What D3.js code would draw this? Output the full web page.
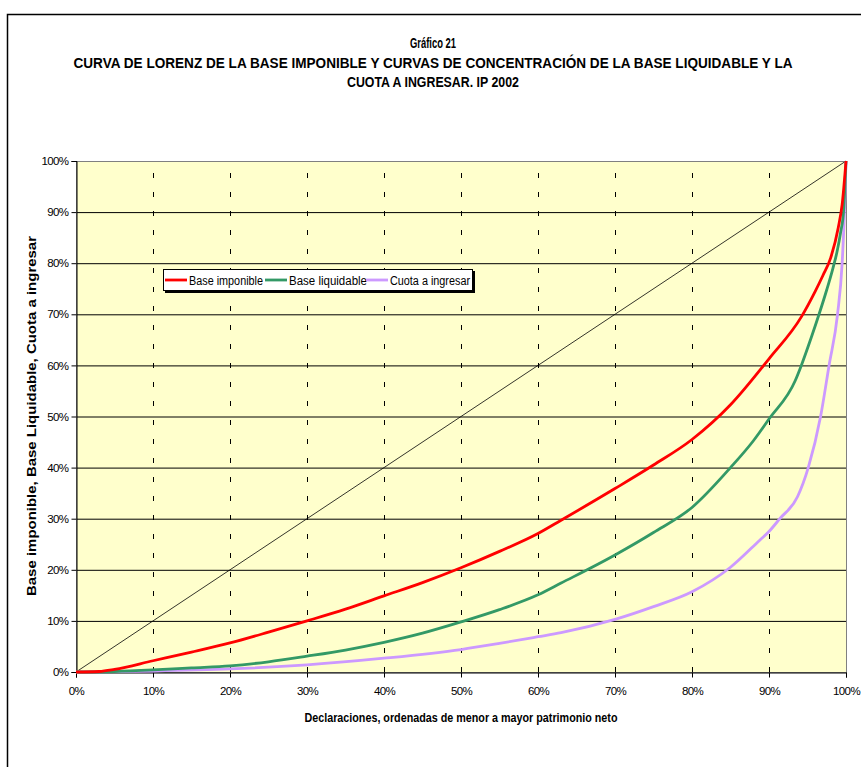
<!DOCTYPE html>
<html><head><meta charset="utf-8">
<script src="https://cdn.jsdelivr.net/npm/d3@7"></script>
<style>body{margin:0;background:#fff} svg{display:block}</style>
</head><body><svg id="c" width="861" height="767"></svg>
<script>
// ---- data ----
const titleLines = ["Gráfico 21",
  "CURVA DE LORENZ DE LA BASE IMPONIBLE Y CURVAS DE CONCENTRACIÓN DE LA BASE LIQUIDABLE Y LA",
  "CUOTA A INGRESAR. IP 2002"];
const xTicks = [0,10,20,30,40,50,60,70,80,90,100];
const yTicks = [0,10,20,30,40,50,60,70,80,90,100];
const seriesNames = ["Base imponible","Base liquidable","Cuota a ingresar"];
const seriesColors = ["#FF0000","#339966","#CC99FF"];

const imponibleX = [0,3,5,10,15,20,25,30,35,40,45,50,55,60,63,70,75,80,85,90,94.2,96,97,98,99,99.5,100];
const imponibleY = [0,0.1,0.5,2.2,3.9,5.7,7.8,10.0,12.3,14.9,17.5,20.4,23.6,27.1,29.7,35.9,40.5,45.5,52.3,61.3,69.5,74.5,77.6,81,87,91.5,100];

const liquidableX = [0,5,10,15,20,25,30,35,40,45,50,55,60,63,70,75,80,85,88,90,93.4,94.2,95.5,96.5,97.5,98.3,98.8,99.3,99.7,100];
const liquidableY = [0,0.1,0.4,0.8,1.2,2.0,3.1,4.3,5.8,7.6,9.8,12.2,15.1,17.4,22.9,27.3,32.2,40,45.3,49.5,57,60,65.5,70,74.8,79,82,86,90.5,100];

const cuotaX = [0,10,20,30,40,50,55,60,63,70,75,80,85,88.8,90,91.4,93.7,95.1,96.7,97.8,98.9,99.5,99.8,100];
const cuotaY = [0,0.2,0.6,1.4,2.7,4.4,5.6,6.9,7.7,10.3,12.8,15.7,20.5,25.8,27.5,30,34.3,40,50,60,70,80,90,100];

const equalityX = [0,100];
const equalityY = [0,100];

const xLabel = "Declaraciones, ordenadas de menor a mayor patrimonio neto";
const yLabel = "Base imponible, Base Liquidable, Cuota a ingresar";

// ---- drawing ----
const svg = d3.select("#c");
const L = 76, R = 846, T = 161, B = 672;
const x = d3.scaleLinear().domain([0,100]).range([L,R]);
const y = d3.scaleLinear().domain([0,100]).range([B,T]);
const font = "'Liberation Sans', Arial, sans-serif";

// outer border
svg.append("rect").attr("x",7.5).attr("y",14.5).attr("width",870).attr("height",770)
  .attr("fill","#fff").attr("stroke","#000").attr("stroke-width",1.5);

// titles
const tY = [48, 68, 87];
const tW = [46, 719, 172];
titleLines.forEach((t,i)=>{
  svg.append("text").attr("x",433).attr("y",tY[i]).attr("text-anchor","middle")
    .attr("font-family",font).attr("font-weight","bold").attr("font-size","14px")
    .attr("textLength",tW[i]).attr("lengthAdjust","spacingAndGlyphs").text(t);
});

// plot bg
svg.append("rect").attr("x",L).attr("y",T).attr("width",R-L).attr("height",B-T).attr("fill","#FFFFCC");

// horizontal gridlines
svg.append("g").selectAll("line").data(yTicks.filter(d=>d>0)).join("line")
  .attr("x1",L).attr("x2",R).attr("y1",d=>y(d)+0.5).attr("y2",d=>y(d)+0.5)
  .attr("stroke","#000").attr("stroke-width",1);
// vertical dashed gridlines
svg.append("g").selectAll("line").data(xTicks.filter(d=>d>0&&d<100)).join("line")
  .attr("x1",d=>Math.round(x(d))+0.5).attr("x2",d=>Math.round(x(d))+0.5).attr("y1",B).attr("y2",T)
  .attr("stroke","#000").attr("stroke-width",1).attr("stroke-dasharray","5,14");

// plot border
svg.append("rect").attr("x",L+0.5).attr("y",T+0.5).attr("width",R-L).attr("height",B-T)
  .attr("fill","none").attr("stroke","#808080").attr("stroke-width",1);

// axes
const xAxis = d3.axisBottom(x).tickValues(xTicks).tickFormat(d=>d+"%").tickSize(5).tickPadding(9);
const gx = svg.append("g").attr("transform",`translate(0,${B+0.5})`).call(xAxis);
const yAxis = d3.axisLeft(y).tickValues(yTicks).tickFormat(d=>d+"%").tickSize(5).tickPadding(3);
const gy = svg.append("g").attr("transform",`translate(${L+0.5},0)`).call(yAxis);
[gx,gy].forEach(g=>{
  g.select(".domain").attr("stroke","#000");
  g.selectAll(".tick line").attr("stroke","#000");
  g.selectAll("text").attr("font-family",font).attr("font-size","11.5px").attr("fill","#000")
    .attr("letter-spacing","-0.6px");
});
gx.selectAll("text").attr("dy","0.71em");

// equality line
const lineGen = d3.line().x(d=>x(d[0])).y(d=>y(d[1]));
svg.append("path").datum(equalityX.map((v,i)=>[v,equalityY[i]]))
  .attr("d",lineGen).attr("fill","none").attr("stroke","#000").attr("stroke-width",0.8);

// series
const curve = d3.line().x(d=>x(d[0])).y(d=>y(d[1])).curve(d3.curveMonotoneX);
const series = [[imponibleX,imponibleY],[liquidableX,liquidableY],[cuotaX,cuotaY]];
[2,1,0].forEach(i=>{
  const [xs,ys] = series[i];
  svg.append("path").datum(xs.map((v,j)=>[v,ys[j]]))
    .attr("d",curve).attr("fill","none").attr("stroke",seriesColors[i])
    .attr("stroke-width",2.8).attr("stroke-linejoin","round");
});

// axis titles
svg.append("text").attr("x",461).attr("y",722).attr("text-anchor","middle")
  .attr("font-family",font).attr("font-weight","bold").attr("font-size","12.5px")
  .attr("textLength",313).attr("lengthAdjust","spacingAndGlyphs").text(xLabel);
svg.append("text").attr("transform","translate(36,416) rotate(-90)").attr("text-anchor","middle")
  .attr("font-family",font).attr("font-weight","bold").attr("font-size","13px")
  .attr("textLength",360).attr("lengthAdjust","spacingAndGlyphs").text(yLabel);

// legend
const lg = svg.append("g");
lg.append("rect").attr("x",165).attr("y",271).attr("width",310).attr("height",22).attr("fill","#000");
lg.append("rect").attr("x",163.5).attr("y",269.5).attr("width",309).attr("height",21)
  .attr("fill","#fff").attr("stroke","#000").attr("stroke-width",1);
const lgX = [165, 265, 366];
const lgW = [74, 78, 80];
seriesNames.forEach((n,i)=>{
  lg.append("line").attr("x1",lgX[i]).attr("x2",lgX[i]+22).attr("y1",280).attr("y2",280)
    .attr("stroke",seriesColors[i]).attr("stroke-width",2.8);
  lg.append("text").attr("x",lgX[i]+24).attr("y",284.5).attr("font-family",font).attr("font-size","12px")
    .attr("textLength",lgW[i]).attr("lengthAdjust","spacingAndGlyphs").text(n);
});
</script></body></html>
